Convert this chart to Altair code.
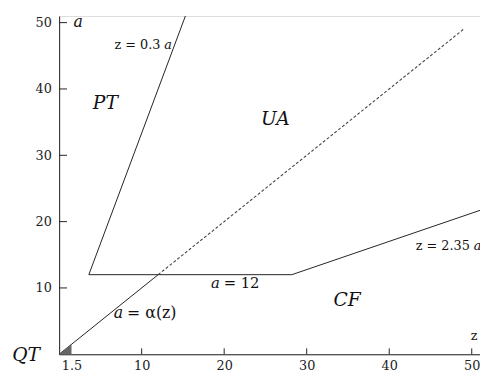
import altair as alt
import pandas as pd

# ---- data ----
# boundary: z = 0.3 a  ->  a = 12  ->  z = 2.35 a
boundary_z = [15.3, 3.6, 28.2, 51.0]
boundary_a = [51.0, 12.0, 12.0, 21.7]
# a = alpha(z)
alpha_z = [0.0, 12.0]
alpha_a = [0.0, 12.0]
# dotted diagonal
diag_z = [12.0, 49.0]
diag_a = [12.0, 49.0]
# small shaded QT triangle
qt_z = [0.0, 1.5]
qt_a = [0.0, 1.5]

x_tick_values = [1.5, 10, 20, 30, 40, 50]
x_tick_marks = [10, 20, 30, 40, 50]
y_tick_values = [10, 20, 30, 40, 50]

region_text = ["PT", "UA", "CF"]
region_z = [5.6, 26.2, 34.9]
region_a = [37.8, 35.4, 8.2]

W, H = 428, 344
FONT = "DejaVu Serif"
xs = alt.Scale(domain=[0, 51], nice=False, zero=False)
ys = alt.Scale(domain=[0, 51], nice=False, zero=False)

bdf = pd.DataFrame({"z": boundary_z, "a": boundary_a, "o": list(range(len(boundary_z)))})
adf = pd.DataFrame({"z": alpha_z, "a": alpha_a})
ddf = pd.DataFrame({"z": diag_z, "a": diag_a})
qdf = pd.DataFrame({"z": qt_z, "a": qt_a})

base_axis_x = alt.Axis(values=x_tick_values, tickSize=0, labelPadding=5, grid=False,
                       labelFont=FONT, labelFontSize=13, labelColor="#222",
                       domainColor="#222", domainWidth=1, title=None,
                       labelExpr="datum.value == 1.5 ? '1.5' : format(datum.value, 'd')")
base_axis_y = alt.Axis(values=y_tick_values, tickSize=0, labelPadding=8, grid=False,
                       labelFont=FONT, labelFontSize=13, labelColor="#222",
                       domainColor="#222", domainWidth=1, title=None)

boundary = alt.Chart(bdf).mark_line(color="#222", strokeWidth=1).encode(
    x=alt.X("z:Q", scale=xs, axis=base_axis_x),
    y=alt.Y("a:Q", scale=ys, axis=base_axis_y),
    order="o:Q",
)
alpha = alt.Chart(adf).mark_line(color="#222", strokeWidth=1).encode(
    x=alt.X("z:Q", scale=xs), y=alt.Y("a:Q", scale=ys))
diag = alt.Chart(ddf).mark_line(color="#444", strokeWidth=1.1, strokeDash=[3, 2]).encode(
    x=alt.X("z:Q", scale=xs), y=alt.Y("a:Q", scale=ys))
tri = alt.Chart(qdf).mark_area(color="#666", opacity=1).encode(
    x=alt.X("z:Q", scale=xs), y=alt.Y("a:Q", scale=ys), y2=alt.datum(0))

xt = alt.Chart(pd.DataFrame({"v": x_tick_marks})).mark_rule(color="#222").encode(
    x=alt.X("v:Q", scale=xs), y=alt.value(H), y2=alt.value(H - 6))
yt = alt.Chart(pd.DataFrame({"v": y_tick_values})).mark_rule(color="#222").encode(
    y=alt.Y("v:Q", scale=ys), x=alt.value(0), x2=alt.value(8))


def txt(items, size, italic=False, align="center", dx=0):
    df = pd.DataFrame(items, columns=["t", "z", "a"])
    return alt.Chart(df).mark_text(font=FONT, fontSize=size, align=align, baseline="middle",
                                   fontStyle="italic" if italic else "normal",
                                   color="#111", clip=False, dx=dx).encode(
        x=alt.X("z:Q", scale=xs), y=alt.Y("a:Q", scale=ys), text="t:N")


def split(left, right, z, a, size, left_italic):
    """Two-part label joined at (z, a): left part right-aligned, right part left-aligned."""
    return [
        txt([(left, z, a)], size, italic=left_italic, align="right", dx=-2),
        txt([(right, z, a)], size, italic=not left_italic, align="left", dx=2),
    ]


regions = txt(list(zip(region_text, region_z, region_a)), 19, italic=True)
qt = txt([("QT", -4.0, -0.1)], 19, italic=True)
a_title = txt([("a", 2.3, 50.1)], 16, italic=True)
z_title = txt([("z", 50.3, 2.8)], 13)

labels = []
labels += split("z = 0.3", "a", 12.5, 46.6, 13, False)
labels += split("a", "= 12", 19.7, 10.7, 15, True)
labels += split("a", "= α(z)", 8.0, 6.2, 16, True)
labels += split("z = 2.35", "a", 50.0, 16.3, 13, False)

chart = alt.layer(boundary, alpha, diag, tri, xt, yt, regions, qt, a_title, z_title,
                  *labels).properties(
    width=W, height=H,
    autosize=alt.AutoSizeParams(type="none"),
    padding={"left": 52, "top": 5, "right": 0, "bottom": 21},
).configure_view(stroke=None).configure(background="white")

chart.save("out.html", embed_options={"renderer": "svg", "actions": False})
